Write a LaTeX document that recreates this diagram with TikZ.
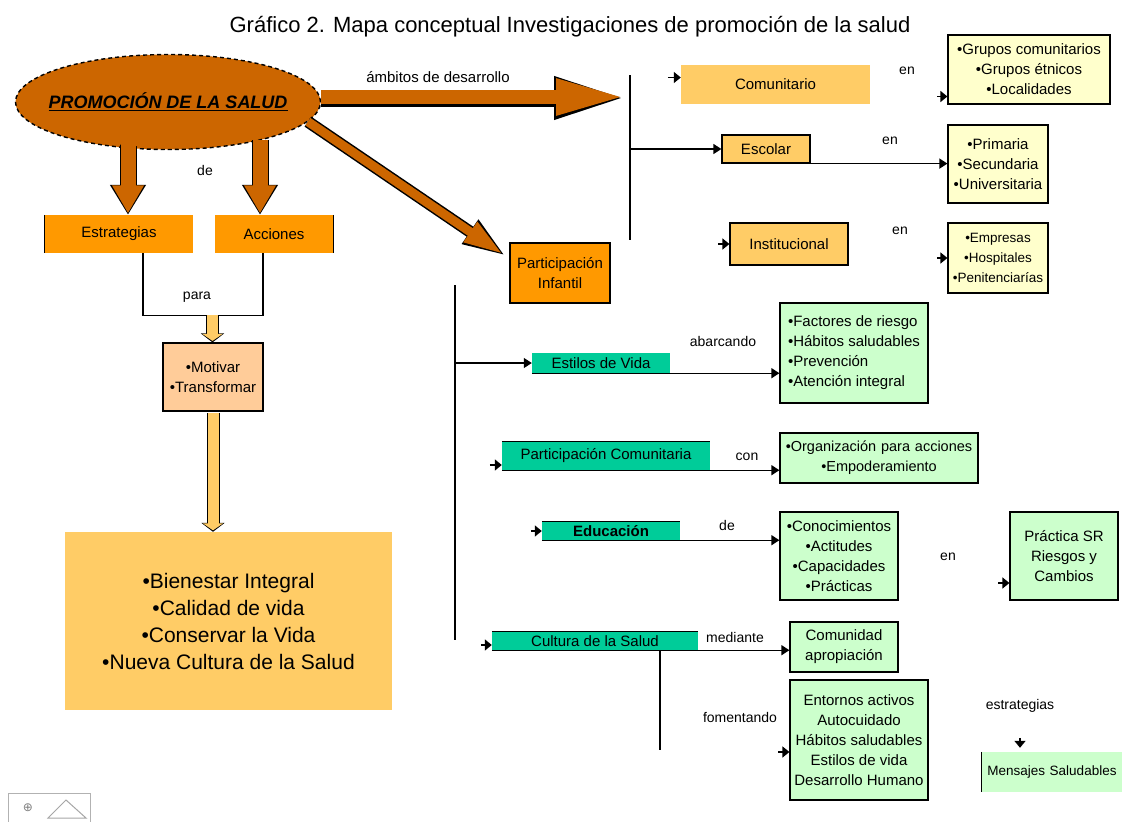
\documentclass[tikz,border=0pt]{standalone}
\usepackage{fontspec}
\setmainfont{Liberation Sans}
\newfontfamily\symfont{DejaVu Sans}
\usetikzlibrary{shapes.geometric,arrows.meta,calc}
\definecolor{dorange}{HTML}{CC6600}
\definecolor{orangeA}{HTML}{FF9900}
\definecolor{orangeB}{HTML}{FFCC66}
\definecolor{peach}{HTML}{FFCC99}
\definecolor{lyellow}{HTML}{FFFFCC}
\definecolor{tgreen}{HTML}{00CC99}
\definecolor{lgreen}{HTML}{CCFFCC}
\begin{document}
\begin{tikzpicture}[x=1pt,y=-1pt,
  box/.style={draw=black, line width=1.2pt, inner sep=2pt, align=center, font=\fontsize{15}{20}\selectfont},
  nobox/.style={inner sep=2pt, align=center, font=\fontsize{15}{20}\selectfont},
  lbl/.style={font=\fontsize{14}{16}\selectfont, inner sep=1pt},
  ln/.style={line width=1.3pt, black},
  conn/.style={line width=1.3pt, black, -{Triangle[length=8pt,width=10pt]}},
  tipar/.style={line width=1.5pt, black, -{Triangle[length=7pt,width=11pt]}},
  palearrow/.style={line width=11pt, orangeB, -{Triangle[length=7pt,width=20pt]}},
]
\useasboundingbox (0,0) rectangle (1125,822);

% title
\node[font=\fontsize{22}{24}\selectfont, inner sep=0pt] (title) at (570,27)
  {Gráfico 2. Mapa conceptual Investigaciones de promoción de la salud};

% ellipse
\node[ellipse, fill=dorange, draw=black, line width=1.4pt, dash pattern=on 4pt off 3pt,
  minimum width=305pt, minimum height=95pt, inner sep=0pt] (ell) at (168,102) {};

% left boxes
\node[nobox, fill=orangeA, minimum width=148pt, minimum height=38pt] (estr) at (119,234) {Estrategias};
\draw[line width=1.2pt] (estr.north west) -- (estr.south west);
\node[nobox, fill=orangeA, minimum width=118pt, minimum height=38pt] (acc) at (274,234) {Acciones};
\draw[line width=1.2pt] (acc.north east) -- (acc.south east);
\node[box, fill=peach, minimum width=100pt, minimum height=68pt] (mot) at (213,377) {•Motivar\\•Transformar};
\node[nobox, fill=orangeB, minimum width=327pt, minimum height=178pt,
  font=\fontsize{21}{27}\selectfont] (big) at (228.5,621)
  {•Bienestar Integral\\•Calidad de vida\\•Conservar la Vida\\•Nueva Cultura de la Salud};

% block arrows from ellipse
\coordinate (d1) at (128,140);
\coordinate (d2) at (260,140);
\draw[line width=17pt, black, -{Triangle[length=30pt,width=34pt]}] (d1) -- (d1 |- estr.north);
\draw[line width=15pt, dorange, -{Triangle[length=28pt,width=30pt]}] (d1) -- ([yshift=1.5pt]d1 |- estr.north);
\draw[line width=17pt, black, -{Triangle[length=30pt,width=34pt]}] (d2) -- (d2 |- acc.north);
\draw[line width=15pt, dorange, -{Triangle[length=28pt,width=30pt]}] (d2) -- ([yshift=1.5pt]d2 |- acc.north);
\fill[dorange] (ell.center) ellipse[x radius=150pt, y radius=45pt];
\node[font=\bfseries\itshape\fontsize{18}{20}\selectfont, inner sep=0pt] (elltext) at (ell.center)
  {\underline{PROMOCIÓN DE LA SALUD}};
\node[lbl] (lde) at (205,170) {de};

% para connector
\draw[ln] ([xshift=24pt]estr.south) -- ++(0,62) coordinate (pl) -| ([xshift=-11pt]acc.south);
\node[lbl] (lpara) at (197,297) {para};
\coordinate (pa) at (212.5,315);
\draw[line width=13pt, black, -{Triangle[length=9pt,width=23pt]}] (pa) -- (pa |- mot.north);
\draw[palearrow] (pa) -- ([yshift=1.5pt]pa |- mot.north);
\draw[line width=13pt, black, -{Triangle[length=9pt,width=23pt]}] ([yshift=-1pt]mot.south) -- (big.north -| mot.south);
\draw[palearrow] ([yshift=-1.5pt]mot.south) -- ([yshift=1.5pt]big.north -| mot.south);

% big horizontal arrow
\coordinate (v1a) at (630,75);
\coordinate (v1b) at (630,240);
\coordinate (hend) at (628,98);
\draw[line width=17pt, black, -{Triangle[length=74pt,width=38pt]}] ([yshift=4pt]ell.east) -- (hend);
\draw[line width=14pt, dorange, -{Triangle[length=70pt,width=33pt]}] ([yshift=5pt]ell.east) -- ([xshift=-2pt,yshift=1pt]hend);
\node[lbl, font=\fontsize{15}{17}\selectfont] (lamb) at (438,77) {ámbitos de desarrollo};
\draw[ln] (v1a) -- (v1b);

% participación infantil + diagonal arrow
\node[box, fill=orangeA, minimum width=100pt, minimum height=60pt] (part) at (560,273) {Participación\\Infantil};
\draw[line width=12pt, black, -{Triangle[length=44pt,width=26pt]}] (ell.-8) -- ([xshift=-3pt,yshift=-14pt]part.north west);
\draw[line width=9pt, dorange, -{Triangle[length=40pt,width=22pt]}] (ell.-8) -- ([xshift=-6pt,yshift=-12pt]part.north west);

% right upper group
\node[nobox, fill=orangeB, minimum width=189pt, minimum height=39pt] (com) at (775.5,84.5) {Comunitario};
\draw[tipar] ([xshift=-13pt,yshift=7pt]com.west) -- ([yshift=7pt]com.west);
\node[lbl] (len1) at (907,71) {en};
\node[box, fill=lyellow, minimum width=162pt, minimum height=69pt] (y1) at (1029,69.5)
  {•Grupos comunitarios\\•Grupos étnicos\\•Localidades};
\draw[tipar] ([xshift=-10pt,yshift=-27pt]y1.west) -- ([yshift=-27pt]y1.west);

\node[box, fill=orangeB, minimum width=88pt, minimum height=28pt] (esc) at (766,149) {Escolar};
\draw[conn] (v1a |- esc.west) -- (esc.west);
\node[box, fill=lyellow, minimum width=100pt, minimum height=78pt] (y2) at (998,164)
  {•Primaria\\•Secundaria\\•Universitaria};
\draw[conn] (esc.south west) -- (esc.south west -| y2.west);
\node[lbl] (len2) at (890,141) {en};

\node[box, fill=orangeB, minimum width=118pt, minimum height=42pt] (inst) at (789,244) {Institucional};
\draw[tipar] ([xshift=-11pt]inst.west) -- (inst.west);
\node[lbl] (len3) at (900,231) {en};
\node[box, fill=lyellow, minimum width=100pt, minimum height=70pt, text width=96pt,
  font=\fontsize{13.5}{20}\selectfont] (y3) at (998,258)
  {•Empresas\\•Hospitales\\•Penitenciarías};
\draw[tipar] ([xshift=-10pt]y3.west) -- (y3.west);

% right lower group
\coordinate (v2a) at (455,285);
\coordinate (v2b) at (455,640);
\draw[ln] (v2a) -- (v2b);

\node[nobox, fill=tgreen, minimum width=138pt, minimum height=20pt] (est) at (601,363) {Estilos de Vida};
\draw[conn] (v2a |- est.west) -- (est.west);
\node[box, fill=lgreen, minimum width=148pt, minimum height=100pt, align=left] (g1) at (854,353)
  {•Factores de riesgo\\•Hábitos saludables\\•Prevención\\•Atención integral};
\draw[conn] (est.south west) -- (est.south west -| g1.west);
\node[lbl] (labar) at (723,341) {abarcando};

\node[nobox, fill=tgreen, minimum width=208pt, minimum height=28pt] (pc) at (606,456) {Participación Comunitaria};
\draw[line width=1.2pt] (pc.north west) -- (pc.north east);
\draw[tipar] ([xshift=-12pt,yshift=-9pt]pc.west) -- ([yshift=-9pt]pc.west);
\node[box, fill=lgreen, minimum width=198pt, minimum height=50pt, text width=194pt,
  font=\fontsize{14.5}{20}\selectfont] (g2) at (879,458)
  {•Organización para acciones\\•Empoderamiento};
\draw[conn] (pc.south west) -- (pc.south west -| g2.west);
\node[lbl] (lcon) at (747,457) {con};

\node[nobox, fill=tgreen, minimum width=138pt, minimum height=18pt] (edu) at (611,531) {\bfseries Educación};
\draw[line width=1.2pt] (edu.north west) -- (edu.north east);
\draw[tipar] ([xshift=-11pt]edu.west) -- (edu.west);
\node[box, fill=lgreen, minimum width=118pt, minimum height=88pt] (g3) at (839,556)
  {•Conocimientos\\•Actitudes\\•Capacidades\\•Prácticas};
\draw[conn] (edu.south west) -- (edu.south west -| g3.west);
\node[lbl] (lde2) at (727,525) {de};
\node[lbl] (len4) at (948,557) {en};
\node[box, fill=lgreen, minimum width=108pt, minimum height=88pt] (g4) at (1064,556)
  {Práctica SR\\Riesgos y\\Cambios};
\draw[tipar] ([xshift=-11pt,yshift=-27pt]g4.west) -- ([yshift=-27pt]g4.west);

\node[nobox, fill=tgreen, minimum width=206pt, minimum height=18pt] (cul) at (595,641) {Cultura de la Salud};
\draw[line width=1.2pt] (cul.north west) -- (cul.north east);
\draw[tipar] ([xshift=-11pt,yshift=-4pt]cul.west) -- ([yshift=-4pt]cul.west);
\node[box, fill=lgreen, minimum width=108pt, minimum height=50pt] (g5) at (844,647)
  {Comunidad\\apropiación};
\draw[conn] (cul.south west) -- (cul.south west -| g5.west);
\node[lbl] (lmed) at (735,637) {mediante};
\coordinate (v3a) at (660,650);
\coordinate (v3b) at (660,750);
\draw[ln] (v3a) -- (v3b);
\node[box, fill=lgreen, minimum width=138pt, minimum height=120pt] (g6) at (859,740)
  {Entornos activos\\Autocuidado\\Hábitos saludables\\Estilos de vida\\Desarrollo Humano};
\draw[tipar] ([xshift=-11pt,yshift=-12pt]g6.west) -- ([yshift=-12pt]g6.west);
\node[lbl] (lfom) at (740,717) {fomentando};
\node[lbl] (lestr) at (1020,706) {estrategias};
\node[nobox, fill=lgreen, minimum width=140pt, minimum height=40pt, text width=136pt,
  font=\fontsize{13.5}{18}\selectfont] (g7) at (1052,772) {Mensajes Saludables};
\draw[line width=1.2pt] (g7.north west) -- (g7.south west);
\draw[tipar] ([yshift=14pt]g7.north -| lestr) -- ([yshift=4pt]g7.north -| lestr);

% small icon bottom-left
\draw[gray!60, line width=1pt] (8,793) rectangle (90,822);
\node[font=\symfont\fontsize{12}{12}\selectfont, gray] (ic) at (28,808) {⊕};
\draw[gray!70, line width=1pt] (48,818) -- (66,800) -- (86,818) -- cycle;
\end{tikzpicture}
\end{document}
